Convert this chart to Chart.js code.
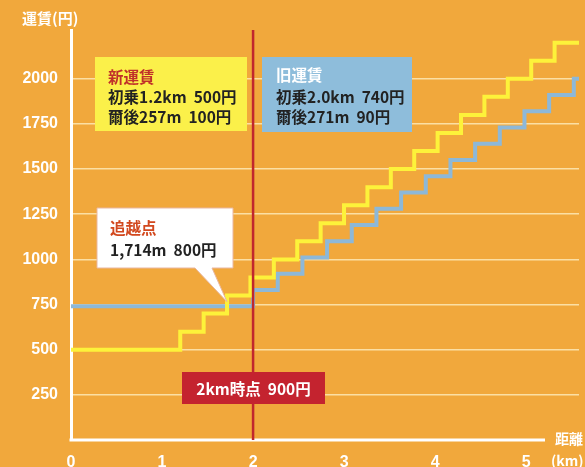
<!DOCTYPE html>
<html lang="ja">
<head>
<meta charset="utf-8">
<title>運賃(円)</title>
<script src="https://cdn.jsdelivr.net/npm/chart.js@4.4.1/dist/chart.umd.min.js"></script>
<style>
  html, body { margin: 0; padding: 0; background: #f1a83c; }
  #wrap { width: 585px; height: 467px; position: relative; }
</style>
</head>
<body>
<div id="wrap"><canvas id="fareChart" width="585" height="467"></canvas></div>
<script>
// 新運賃: 初乗1.2km 500円, 爾後257m 100円 (start km of each step, fare)
const newFareKm = [0, 1.2, 1.457, 1.714, 1.971, 2.228, 2.485, 2.742, 2.999, 3.256, 3.513, 3.77, 4.027, 4.284, 4.541, 4.798, 5.055, 5.312, 5.58];
const newFareYen = [500, 600, 700, 800, 900, 1000, 1100, 1200, 1300, 1400, 1500, 1600, 1700, 1800, 1900, 2000, 2100, 2200, 2200];

// 旧運賃: 初乗2.0km 740円, 爾後271m 90円
const oldFareKm = [0, 2.0, 2.271, 2.542, 2.813, 3.084, 3.355, 3.626, 3.897, 4.168, 4.439, 4.71, 4.981, 5.252, 5.523, 5.58];
const oldFareYen = [740, 830, 920, 1010, 1100, 1190, 1280, 1370, 1460, 1550, 1640, 1730, 1820, 1910, 2000, 2000];

// 2km時点 marker
const markerKm = [2, 2];
const markerYen = [0, 2270];

const xTicks = [0, 1, 2, 3, 4, 5];
const yTicks = [250, 500, 750, 1000, 1250, 1500, 1750, 2000];

const bg = '#f1a83c';
const jpFont = '"Noto Sans CJK JP", "Noto Sans", sans-serif';
const numFont = '"Liberation Sans", Arial, sans-serif';

function toPoints(xs, ys) {
    return xs.map((x, i) => ({ x: x, y: ys[i] }));
}

function drawText(c, text, x, y, color, size, align) {
    c.font = 'bold ' + size + 'px ' + jpFont;
    c.fillStyle = color;
    c.textAlign = align || 'left';
    c.textBaseline = 'middle';
    c.fillText(text, x, y);
}

const decorations = {
    id: 'decorations',
    beforeDraw(chart) {
        const c = chart.ctx;
        c.save();
        c.fillStyle = bg;
        c.fillRect(0, 0, chart.width, chart.height);
        c.restore();
    },
    beforeDatasetsDraw(chart) {
        const c = chart.ctx;
        const xs = chart.scales.x, ys = chart.scales.y;
        const y0 = ys.getPixelForValue(0);
        c.save();
        c.strokeStyle = '#ffffff';
        c.lineWidth = 3;
        c.beginPath();
        c.moveTo(xs.getPixelForValue(0) - 1.5, y0);
        c.lineTo(545, y0);
        c.stroke();
        c.restore();
    },
    afterDatasetsDraw(chart) {
        const c = chart.ctx;
        const xs = chart.scales.x, ys = chart.scales.y;
        c.save();

        // axis titles
        drawText(c, '運賃(円)', 22, 18, '#ffffff', 15);
        drawText(c, '距離', 555, 439, '#ffffff', 14);
        drawText(c, '(km)', 551, 461, '#ffffff', 14);

        // 新運賃 box
        c.fillStyle = '#fbf04a';
        c.fillRect(95, 57, 152, 74);
        drawText(c, '新運賃', 108, 77, '#c0302a', 15.5);
        drawText(c, '初乗1.2km  500円', 108, 97, '#222222', 15.5);
        drawText(c, '爾後257m  100円', 108, 117, '#222222', 15.5);

        // 旧運賃 box
        c.fillStyle = '#8ebddb';
        c.fillRect(262, 57, 150, 75);
        drawText(c, '旧運賃', 276, 75, '#ffffff', 15.5);
        drawText(c, '初乗2.0km  740円', 276, 97, '#222222', 15.5);
        drawText(c, '爾後271m  90円', 276, 117, '#222222', 15.5);

        // 追越点 callout
        const tipX = xs.getPixelForValue(1.714);
        const tipY = ys.getPixelForValue(765);
        c.fillStyle = '#ffffff';
        c.strokeStyle = '#e9b7a0';
        c.lineWidth = 1;
        c.beginPath();
        c.moveTo(97, 208);
        c.lineTo(233, 208);
        c.lineTo(233, 268);
        c.lineTo(212, 268);
        c.lineTo(tipX, tipY);
        c.lineTo(195, 268);
        c.lineTo(97, 268);
        c.closePath();
        c.fill();
        c.stroke();
        drawText(c, '追越点', 110, 228, '#d2481e', 15.5);
        drawText(c, '1,714m  800円', 110, 250, '#222222', 15.5);

        // 2km時点 box
        c.fillStyle = '#c4232f';
        c.fillRect(182, 372, 143, 32);
        drawText(c, '2km時点  900円', 253.5, 389, '#ffffff', 15.5, 'center');

        c.restore();
    }
};

const chart = new Chart(document.getElementById('fareChart').getContext('2d'), {
    type: 'line',
    data: {
        datasets: [
            {
                label: '2km時点',
                data: toPoints(markerKm, markerYen),
                borderColor: '#c1272d',
                borderWidth: 2.5,
                pointRadius: 0
            },
            {
                label: '新運賃',
                data: toPoints(newFareKm, newFareYen),
                stepped: 'before',
                borderColor: '#fdf23a',
                borderWidth: 4,
                pointRadius: 0
            },
            {
                label: '旧運賃',
                data: toPoints(oldFareKm, oldFareYen),
                stepped: 'before',
                borderColor: '#8db8d8',
                borderWidth: 4,
                pointRadius: 0
            }
        ]
    },
    options: {
        responsive: false,
        animation: false,
        layout: { padding: { top: 30, right: 6, left: 0, bottom: 0 } },
        plugins: {
            legend: { display: false },
            tooltip: { enabled: false }
        },
        scales: {
            x: {
                type: 'linear',
                min: 0,
                max: 5.58,
                afterBuildTicks: s => { s.ticks = xTicks.map(v => ({ value: v })); },
                afterFit: s => { s.height = 27; },
                grid: { display: false },
                border: { display: false },
                ticks: {
                    color: '#ffffff',
                    padding: 5,
                    maxRotation: 0,
                    callback: v => String(v),
                    font: { family: numFont, size: 16, weight: 'bold' }
                }
            },
            y: {
                min: 0,
                max: 2270,
                afterBuildTicks: s => { s.ticks = yTicks.map(v => ({ value: v })); },
                afterFit: s => { s.width = 71; },
                grid: {
                    color: '#fbdfa4',
                    lineWidth: 1.5,
                    drawTicks: false
                },
                border: { color: '#ffffff', width: 3 },
                ticks: {
                    color: '#ffffff',
                    padding: 13,
                    callback: v => String(v),
                    font: { family: numFont, size: 16, weight: 'bold' }
                }
            }
        }
    },
    plugins: [decorations]
});
</script>
</body>
</html>
